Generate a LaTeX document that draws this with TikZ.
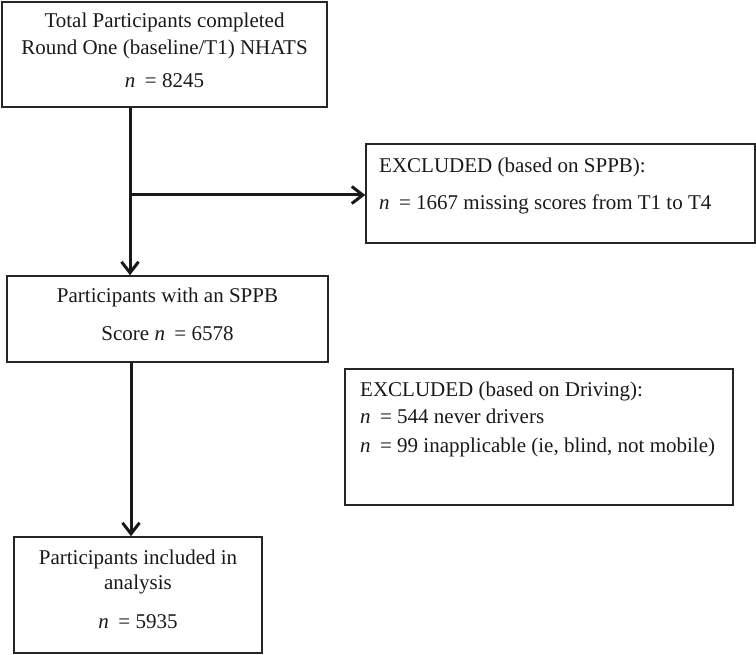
\documentclass[tikz,border=0pt]{standalone}
\usepackage{fontspec}
\setmainfont{Liberation Serif}
\usetikzlibrary{arrows.meta,calc}
\tikzset{
  boxnode/.style={draw=black!85, line width=1.5pt, inner sep=0pt, fill=none},
  txt/.style={inner sep=0pt, font=\fontsize{21}{24}\selectfont, text=black!90},
  flow/.style={line width=3pt, black!90, -{Straight Barb[length=11pt,width=17pt,line width=3pt]}},
  link/.style={line width=3pt, black!90}
}
\newcommand{\nn}{{\itshape n}\hspace{0.45em}}
\begin{document}
\begin{tikzpicture}[x=1pt,y=-1pt]
\useasboundingbox (0,0) rectangle (756,655);
% boxes
\node[boxnode, minimum width=325pt, minimum height=105pt] (b1) at (164.5,54.5) {};
\node[boxnode, minimum width=389pt, minimum height=99pt] (b2) at (560.5,193.5) {};
\node[boxnode, minimum width=321pt, minimum height=86pt] (b3) at (167.5,319) {};
\node[boxnode, minimum width=388pt, minimum height=136pt] (b4) at (539,437) {};
\node[boxnode, minimum width=248pt, minimum height=116pt] (b5) at (138,595) {};
% texts
\node[txt, anchor=base] (t1a) at (164.5,28) {Total Participants completed};
\node[txt, anchor=base] (t1b) at (164.5,55) {Round One (baseline/T1) NHATS};
\node[txt, anchor=base] (t1c) at (164.5,88) {\nn= 8245};
\node[txt, anchor=base west] (t2a) at (379,173) {EXCLUDED (based on SPPB):};
\node[txt, anchor=base west] (t2b) at (379,210) {\nn= 1667 missing scores from T1 to T4};
\node[txt, anchor=base] (t3a) at (167.5,303) {Participants with an SPPB};
\node[txt, anchor=base] (t3b) at (167.5,341) {Score \nn= 6578};
\node[txt, anchor=base west] (t4a) at (360,396) {EXCLUDED (based on Driving):};
\node[txt, anchor=base west] (t4b) at (360,424) {\nn= 544 never drivers};
\node[txt, anchor=base west] (t4c) at (360,453) {\nn= 99 inapplicable (ie, blind, not mobile)};
\node[txt, anchor=base] (t5a) at (138,564) {Participants included in};
\node[txt, anchor=base] (t5b) at (138,589) {analysis};
\node[txt, anchor=base] (t5c) at (138,628) {\nn= 5935};
% connectors
\coordinate (j1) at (130,195);
\coordinate (j2) at (131,400);
\draw[flow] (b1.south -| j1) -- (b3.north -| j1);
\draw[flow] (j1) -- (j1 -| b2.west);
\draw[flow] (b3.south -| j2) -- (b5.north -| j2);
\end{tikzpicture}
\end{document}
